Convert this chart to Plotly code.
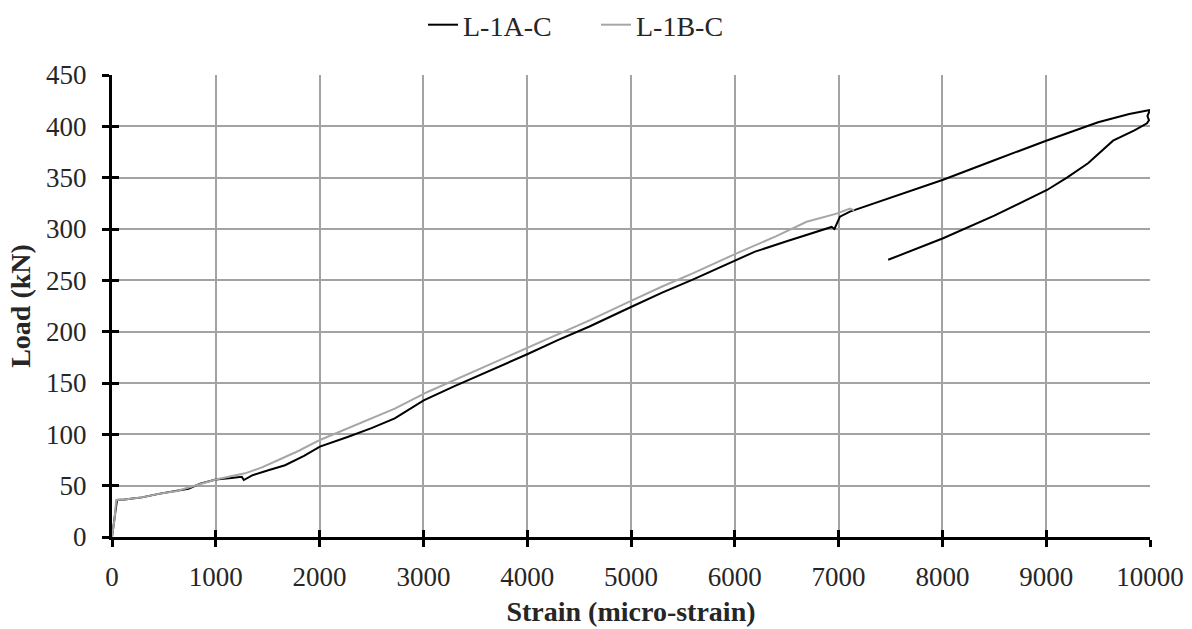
import plotly.graph_objects as go

# L-1A-C (black)
strain_a = [0, 15, 30, 48, 120, 288, 450, 625, 737, 850, 1000, 1150, 1250, 1270, 1350, 1506, 1667,
            1850, 2003, 2276, 2500, 2724, 3003, 3300, 3600, 4000, 4300, 4600, 5000, 5300,
            5600, 6050, 6195, 6500, 6800, 6933, 6960, 7013, 7109, 7494, 8007, 8500, 9000,
            9500, 9800, 10000, 9975, 9990, 9971, 9850, 9644, 9403, 9200, 9008, 8500, 8007,
            7750, 7478]
load_a = [0, 13, 25, 36, 36.5, 38.6, 42, 44.8, 47, 52, 56, 57.5, 58.7, 55.5, 60, 65, 69.9,
          79, 88, 97.7, 106, 115.5, 133, 147, 160, 178, 192, 205, 224, 238,
          251, 271, 278, 288, 298, 302, 300, 312, 317, 330, 348, 367, 386,
          404, 412, 416, 410, 406, 403, 396, 386, 364, 350, 338, 313, 291,
          281, 270]

# L-1B-C (grey)
strain_b = [0, 25, 40, 120, 288, 450, 625, 800, 1000, 1282, 1450, 1603, 1800, 2003, 2276,
            2500, 2724, 3045, 3300, 3600, 4000, 4300, 4600, 5000, 5300, 5600, 6050,
            6400, 6692, 6981, 7109, 7150]
load_b = [0, 18, 36, 36.5, 38.6, 42, 44.8, 50, 56, 62, 68, 75, 84, 94.5, 105.8,
          115, 125, 141.5, 153, 166, 184, 198, 211, 230, 244, 257, 277.8,
          293, 307, 315, 320, 318]

# axis ticks
x_range = [0, 10000]
x_dtick = 1000
y_range = [0, 450]
y_dtick = 50

font_family = "Liberation Serif"
text_color = "#262626"
grid_color = "#a3a3a3"

fig = go.Figure()
fig.add_trace(go.Scatter(x=strain_a, y=load_a, mode="lines", name="L-1A-C",
                         line=dict(color="#000000", width=2)))
fig.add_trace(go.Scatter(x=strain_b, y=load_b, mode="lines", name="L-1B-C",
                         line=dict(color="#a6a6a6", width=2)))
# invisible trace to carry the overlaid axes (inside half of the crossing ticks)
fig.add_trace(go.Scatter(x=strain_b, y=load_b, mode="lines", xaxis="x2", yaxis="y2",
                         line=dict(color="rgba(0,0,0,0)", width=0), showlegend=False,
                         hoverinfo="skip"))

axis_common = dict(showline=True, linecolor="black", linewidth=3, zeroline=False,
                   tickwidth=3, tickcolor="black", ticklen=7, automargin=False)

fig.update_layout(
    width=1192, height=629,
    paper_bgcolor="white", plot_bgcolor="white",
    margin=dict(l=112, r=42, t=75, b=92),
    font=dict(family=font_family, size=28, color=text_color),
    showlegend=True,
    legend=dict(orientation="h", x=0.5, xanchor="center", xref="container",
                y=1.0, yanchor="top", yref="container", traceorder="normal",
                font=dict(family=font_family, size=28, color=text_color),
                itemwidth=30, entrywidth=128, bgcolor="rgba(0,0,0,0)"),
    xaxis=dict(range=x_range, dtick=x_dtick, tick0=0, tickformat="d",
               showgrid=True, gridcolor=grid_color, gridwidth=2,
               ticks="outside", ticklabelstandoff=7,
               tickfont=dict(family=font_family, size=27, color=text_color),
               title=dict(text="<b>Strain (micro-strain)</b>",
                          font=dict(family=font_family, size=28, color=text_color),
                          standoff=10),
               **axis_common),
    yaxis=dict(range=y_range, dtick=y_dtick, tick0=0, tickformat="d",
               showgrid=True, gridcolor=grid_color, gridwidth=2,
               ticks="outside", ticklabelstandoff=10,
               tickfont=dict(family=font_family, size=27, color=text_color),
               title=dict(text="<b>Load (kN)</b>",
                          font=dict(family=font_family, size=28, color=text_color),
                          standoff=8),
               **axis_common),
    xaxis2=dict(range=x_range, dtick=x_dtick, tick0=0, overlaying="x", anchor="y2",
                side="bottom", ticks="inside", showticklabels=False, showgrid=False,
                **axis_common),
    yaxis2=dict(range=y_range, dtick=y_dtick, tick0=0, overlaying="y", anchor="x2",
                side="left", ticks="inside", showticklabels=False, showgrid=False,
                **axis_common),
)

fig.write_html("out.html")
